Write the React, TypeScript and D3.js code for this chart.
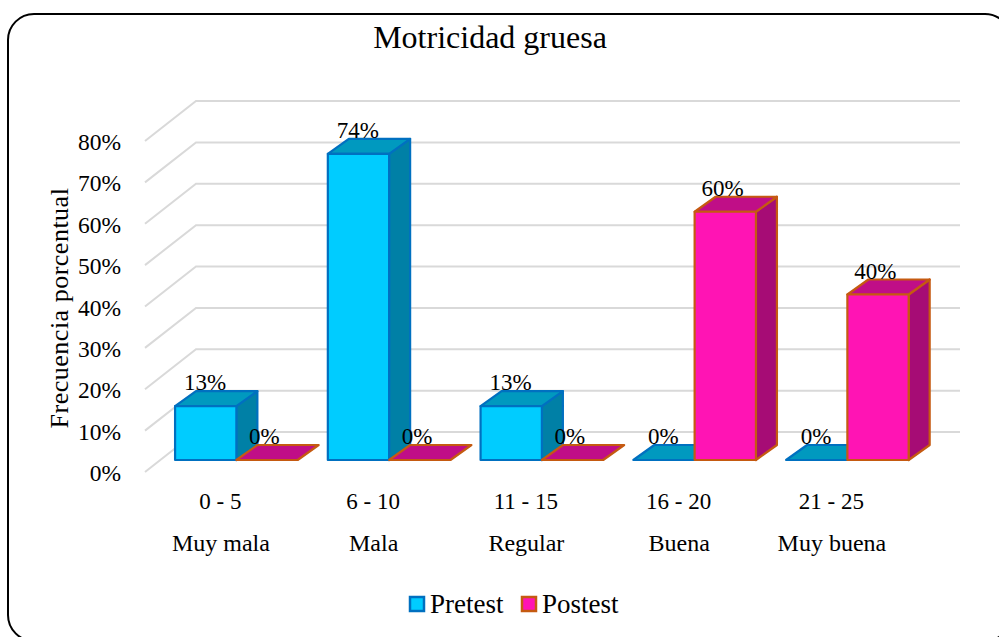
import React from "react";
import * as d3 from "d3";

const categories = ["0 - 5", "6 - 10", "11 - 15", "16 - 20", "21 - 25"];
const levels = ["Muy mala", "Mala", "Regular", "Buena", "Muy buena"];
const pretest = [13, 74, 13, 0, 0];
const postest = [0, 0, 0, 60, 40];
const ticks = [0, 10, 20, 30, 40, 50, 60, 70, 80];
const seriesNames = ["Pretest", "Postest"];

const W = 999, H = 637;
const FONT = "'Liberation Serif', serif";
const dx = 21, dy = 15;

const yFront = d3.scaleLinear().domain([0, 80]).range([460, 129]);
const x0 = d3.scaleBand<string>().domain(categories).range([160, 160 + 152.75 * 5]).paddingInner(0).paddingOuter(0);
const styles = [
  { front: "#00CCFF", top: "#0099BF", side: "#0080A6", stroke: "#0070C0" },
  { front: "#FF14B4", top: "#C00E87", side: "#A60C75", stroke: "#C55A11" },
];

function Bar({ x, w, v, s }: { x: number; w: number; v: number; s: typeof styles[0] }) {
  const b = yFront(0), t = yFront(v);
  const poly = (p: number[][]) => p.map((q) => q.join(",")).join(" ");
  return (
    <g stroke={s.stroke} strokeWidth={2.2} strokeLinejoin="round">
      {v > 0 && <polygon points={poly([[x + w, t], [x + w + dx, t - dy], [x + w + dx, b - dy], [x + w, b]])} fill={s.side} />}
      <polygon points={poly([[x, t], [x + dx, t - dy], [x + w + dx, t - dy], [x + w, t]])} fill={s.top} />
      {v > 0 && <rect x={x} y={t} width={w} height={b - t} fill={s.front} />}
    </g>
  );
}

export default function App() {
  const barW = 61.3;
  const center = (i: number) => (x0(categories[i]) as number) + x0.bandwidth() / 2;
  return (
    <svg width={W} height={H} style={{ position: "fixed", left: 0, top: 0, display: "block" }} fontFamily={FONT} fill="#000">
      <rect width={W} height={H} fill="#fff" />
      <rect x={8} y={14} width={1003} height={627} rx={26} ry={26} fill="#fff" stroke="#000" strokeWidth={2} />
      <text x={490} y={48} fontSize={32} textAnchor="middle">Motricidad gruesa</text>
      {ticks.map((t) => {
        const y = yFront(t);
        return (
          <g key={t} stroke="#D9D9D9" strokeWidth={2} fill="none">
            <polyline points={`145,${y + 12} 196,${y - 28} 960,${y - 28}`} />
          </g>
        );
      })}
      {ticks.map((t) => (
        <text key={t} x={121} y={yFront(t) + 21} fontSize={23.5} textAnchor="end">{t}%</text>
      ))}
      <text transform="translate(68,308) rotate(-90)" fontSize={26} textAnchor="middle" letterSpacing={0.5}>Frecuencia porcentual</text>
      {categories.map((c, i) => {
        const xs = center(i) - barW;
        return (
          <g key={c}>
            <Bar x={xs} w={barW} v={pretest[i]} s={styles[0]} />
            <Bar x={xs + barW} w={barW} v={postest[i]} s={styles[1]} />
          </g>
        );
      })}
      {categories.map((c, i) => {
        const xs = center(i) - barW;
        return (
          <g key={c} fontSize={23} textAnchor="middle">
            <text x={xs + 30} y={yFront(pretest[i]) - 16}>{pretest[i]}%</text>
            <text x={xs + barW + 28} y={yFront(postest[i]) - 16}>{postest[i]}%</text>
            <text x={center(i) - 16} y={509}>{c}</text>
            <text x={center(i) - 15.5} y={551} fontSize={24}>{levels[i]}</text>
          </g>
        );
      })}
      <rect x={410} y={597} width={14} height={14} fill={styles[0].front} stroke={styles[0].stroke} strokeWidth={2.5} />
      <text x={430} y={613} fontSize={27}>{seriesNames[0]}</text>
      <rect x={522} y={597} width={14} height={14} fill={styles[1].front} stroke={styles[1].stroke} strokeWidth={2.5} />
      <text x={542} y={613} fontSize={27}>{seriesNames[1]}</text>
    </svg>
  );
}
